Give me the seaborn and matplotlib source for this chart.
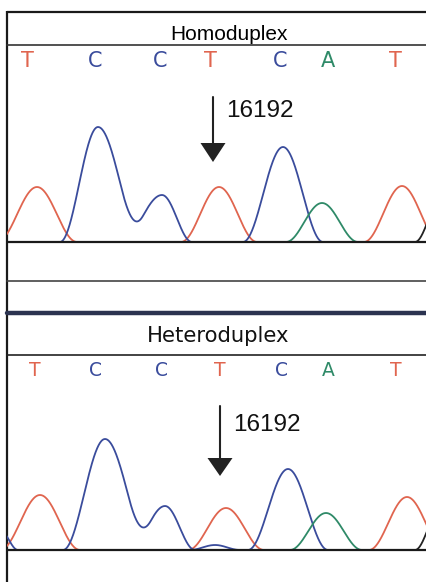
import numpy as np
import pandas as pd
import matplotlib
matplotlib.use("Agg")
import matplotlib.pyplot as plt
import seaborn as sns

# ---------------- data ----------------
bases = ["T", "C", "C", "T", "C", "A", "T"]
titles = ["Homoduplex", "Heteroduplex"]
site_label = "16192"

# base-call positions (trace scan units)
homo_call_pos = [20, 88, 153, 203, 273, 321, 388]
hetero_call_pos = [28, 89, 155, 213, 275, 321, 389]

# peaks: centre, height, left / right half-base widths per channel
homo_red_pos, homo_red_h = [30, 212, 395], [55, 55, 56]
homo_red_wl, homo_red_wr = [40, 38, 38], [40, 38, 38]
homo_blue_pos, homo_blue_h = [91, 155, 276], [115, 47, 95]
homo_blue_wl, homo_blue_wr = [38, 41, 40], [45, 30, 40]
homo_green_pos, homo_green_h = [315], [39]
homo_green_wl, homo_green_wr = [36], [36]
homo_black_pos, homo_black_h = [433], [40]
homo_black_wl, homo_black_wr = [25], [25]

het_red_pos, het_red_h = [33, 219, 400], [55, 42, 53]
het_red_wl, het_red_wr = [40, 38, 38], [40, 38, 38]
het_blue_pos, het_blue_h = [-7, 98, 158, 208, 281], [20, 111, 44, 5, 81]
het_blue_wl, het_blue_wr = [18, 42, 36, 25, 40], [18, 46, 30, 25, 40]
het_green_pos, het_green_h = [319], [37]
het_green_wl, het_green_wr = [36], [36]
het_black_pos, het_black_h = [433], [40]
het_black_wl, het_black_wr = [25], [25]

# site of the variant (trace units)
homo_site = 206
het_site = 213

palette = {"T": "#e0654f", "C": "#3a4c9c", "A": "#2f8a68", "G": "#222222"}

W, H = 427, 582
fig = plt.figure(figsize=(W / 100, H / 100), dpi=100)
sns.set_style("white")

ax0 = fig.add_axes([0, 0, 1, 1])
ax0.set_xlim(0, W)
ax0.set_ylim(H, 0)
ax0.axis("off")


def px_axes(x0, y_top, x1, y_bot):
    return fig.add_axes([x0 / W, 1 - y_bot / H, (x1 - x0) / W, (y_bot - y_top) / H])


def build(chs):
    x = np.linspace(-15, 445, 1400)
    frames = []
    for name, pos, h, wl, wr in chs:
        y = np.zeros_like(x)
        for p, hh, a, b in zip(pos, h, wl, wr):
            ww = np.where(x < p, a, b)
            d = np.abs(x - p)
            y += np.where(d < ww, hh * 0.5 * (1 + np.cos(np.pi * d / ww)), 0.0)
        frames.append(pd.DataFrame({"scan": x, "signal": y, "base": name}))
    return pd.concat(frames, ignore_index=True)


homo_df = build([
    ("T", homo_red_pos, homo_red_h, homo_red_wl, homo_red_wr),
    ("C", homo_blue_pos, homo_blue_h, homo_blue_wl, homo_blue_wr),
    ("A", homo_green_pos, homo_green_h, homo_green_wl, homo_green_wr),
    ("G", homo_black_pos, homo_black_h, homo_black_wl, homo_black_wr),
])
het_df = build([
    ("T", het_red_pos, het_red_h, het_red_wl, het_red_wr),
    ("C", het_blue_pos, het_blue_h, het_blue_wl, het_blue_wr),
    ("A", het_green_pos, het_green_h, het_green_wl, het_green_wr),
    ("G", het_black_pos, het_black_h, het_black_wl, het_black_wr),
])

# ------------- chrome -------------
line_c = "#1a1a1a"
ax0.plot([7.5, 7.5], [11, H], color=line_c, lw=1.6, solid_capstyle="butt")
ax0.plot([7, W], [12, 12], color=line_c, lw=1.6)
ax0.plot([7, W], [45, 45], color="#333333", lw=1.2)
ax0.plot([7, W], [281, 281], color="#444444", lw=1.2)
ax0.plot([7, W], [313, 313], color="#2b3350", lw=3.2)
ax0.plot([7, W], [355, 355], color="#222222", lw=1.2)

ax0.text(229, 40, titles[0], ha="center", va="baseline", fontsize=15,
         family="Liberation Sans", color="#000000")
ax0.text(218, 342, titles[1], ha="center", va="baseline", fontsize=15.2,
         family="DejaVu Sans", color="#111111")

# panels
panels = [
    (homo_df, 112, 252, homo_call_pos, 61, 15, homo_site, 97, 143, 162, 117),
    (het_df, 420, 560, hetero_call_pos, 370, 13.5, het_site, 406, 458, 476, 431),
]
for df, ytop, ybot, calls, ylet, fs, site, sh0, hd0, hd1, lab_y in panels:
    ax = px_axes(7, ytop, W, ybot)
    ax.set_xlim(0, W - 7)
    ax.set_ylim(-10, 130)
    ax.patch.set_alpha(0)
    sns.lineplot(data=df, x="scan", y="signal", hue="base", palette=palette,
                 estimator=None, sort=False, legend=False, lw=1.3, ax=ax)
    ax.axhline(0, color="#1a1a1a", lw=1.6, zorder=5)
    ax.axis("off")
    # base calls
    for b, p in zip(bases, calls):
        ax0.text(p + 7, ylet, b, ha="center", va="center", fontsize=fs,
                 family="DejaVu Sans", color=palette[b])
    # arrow
    xs = site + 7
    ax0.plot([xs, xs], [sh0, hd0 + 2], color="#222222", lw=1.5)
    ax0.fill([xs - 12.5, xs + 12.5, xs], [hd0, hd0, hd1], color="#222222", lw=0)
    ax0.text(xs + 13, lab_y, site_label, ha="left", va="baseline",
             fontsize=17.5, family="Liberation Sans", color="#111111")

fig.savefig("out.png", dpi=100)
